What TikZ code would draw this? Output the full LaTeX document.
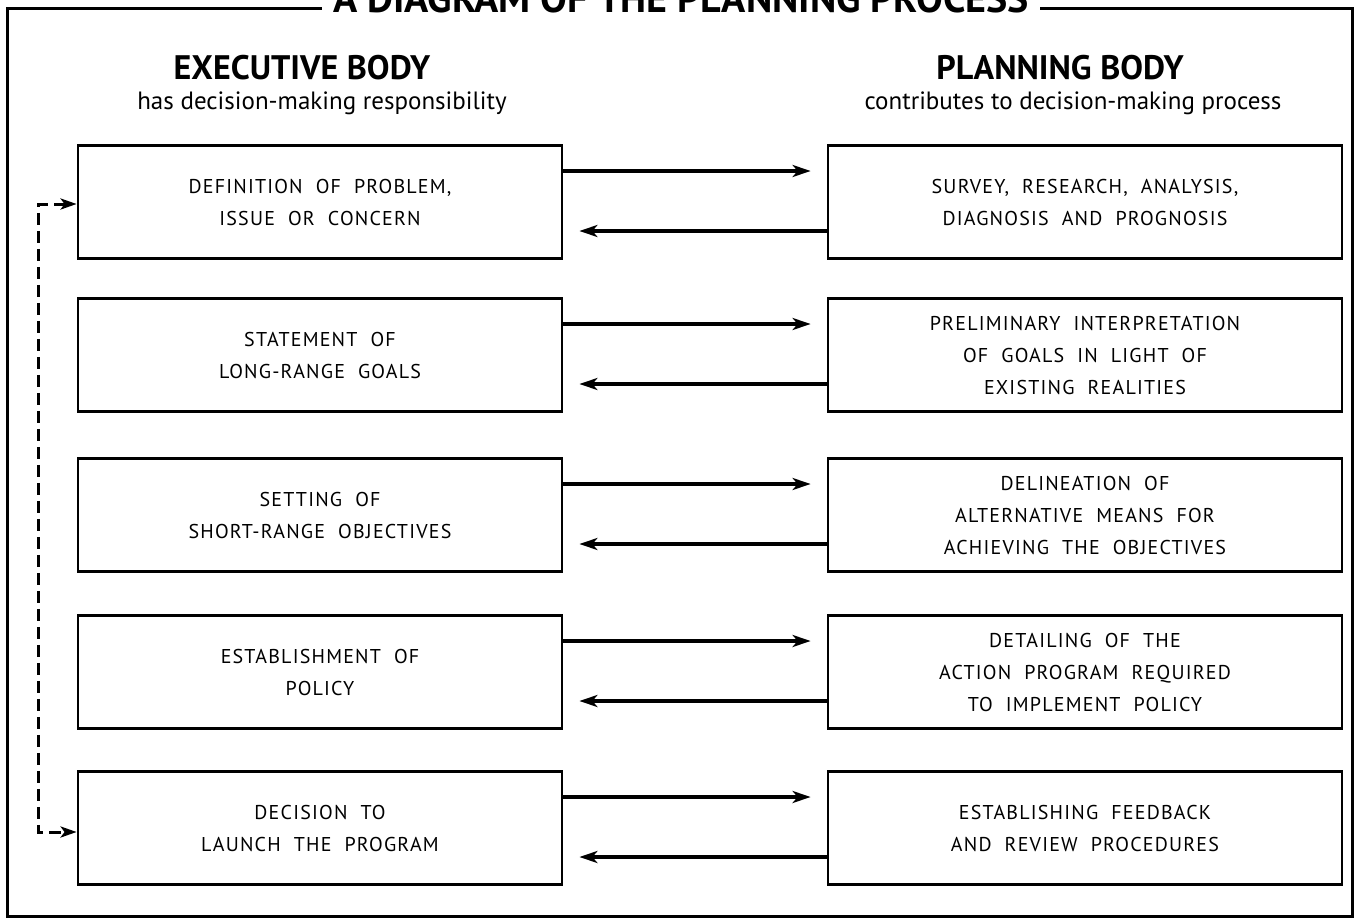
\documentclass[tikz,border=0pt]{standalone}
\usepackage{fontspec}
\setmainfont{PT Sans}
\newfontfamily\boxfont[LetterSpace=6,WordSpace=2]{PT Sans}
\newfontfamily\headfont{PT Sans}
\usetikzlibrary{arrows.meta}
\begin{document}
\begin{tikzpicture}[x=1pt,y=-1pt,
  lbox/.style={draw, line width=2.8pt, minimum width=484pt, minimum height=113pt, inner sep=0pt, align=center, font=\boxfont\fontsize{20}{32}\selectfont},
  rbox/.style={lbox, minimum width=514pt},
  conn/.style={line width=3.2pt, -{Stealth[length=18pt,width=12pt,inset=5pt]}},
  fb/.style={line width=3pt, dash pattern=on 12pt off 6pt, {Stealth[length=16pt,width=11pt,inset=4pt]}-{Stealth[length=16pt,width=11pt,inset=4pt]}},
  head/.style={font=\headfont\bfseries\fontsize{34}{36}\selectfont, inner sep=0pt},
  sub/.style={font=\headfont\fontsize{25}{28}\selectfont, inner sep=0pt},
  ttl/.style={font=\headfont\bfseries\fontsize{40}{42}\selectfont, inner sep=11pt}
]
\useasboundingbox (0,0) rectangle (1358,921);
% title and frame
\node[ttl, anchor=base] (title) at (681,12) {A DIAGRAM OF THE PLANNING PROCESS};
\draw[line width=3pt] (title.west |- 0,8) -- (7,8) -- (7,916) -- (1352,916) -- (1352,8) -- (title.east |- 0,8);
% headings
\node[head] (eh) at (302,68) {EXECUTIVE BODY};
\node[sub] (es) at (322,103) {has decision-making responsibility};
\node[head] (ph) at (1060,68) {PLANNING BODY};
\node[sub] (ps) at (1073,103) {contributes to decision-making process};
% left boxes
\node[lbox] (L1) at (320,202) {DEFINITION OF PROBLEM,\\ISSUE OR CONCERN};
\node[lbox] (L2) at (320,355) {STATEMENT OF\\LONG-RANGE GOALS};
\node[lbox] (L3) at (320,515) {SETTING OF\\SHORT-RANGE OBJECTIVES};
\node[lbox] (L4) at (320,672) {ESTABLISHMENT OF\\POLICY};
\node[lbox] (L5) at (320,828) {DECISION TO\\LAUNCH THE PROGRAM};
% right boxes
\node[rbox] (R1) at (1085,202) {SURVEY, RESEARCH, ANALYSIS,\\DIAGNOSIS AND PROGNOSIS};
\node[rbox] (R2) at (1085,355) {PRELIMINARY INTERPRETATION\\OF GOALS IN LIGHT OF\\EXISTING REALITIES};
\node[rbox] (R3) at (1085,515) {DELINEATION OF\\ALTERNATIVE MEANS FOR\\ACHIEVING THE OBJECTIVES};
\node[rbox] (R4) at (1085,672) {DETAILING OF THE\\ACTION PROGRAM REQUIRED\\TO IMPLEMENT POLICY};
\node[rbox] (R5) at (1085,828) {ESTABLISHING FEEDBACK\\AND REVIEW PROCEDURES};
% connectors
\foreach \i in {1,...,5}{
  \draw[conn] ([yshift=31pt]L\i.east) -- ([yshift=31pt,xshift=-16pt]R\i.west);
  \draw[conn] ([yshift=-29pt]R\i.west) -- ([yshift=-29pt,xshift=16pt]L\i.east);
}
% feedback loop
\draw[fb] ([yshift=-2pt]L1.west) -- ++(-38,0) |- ([yshift=-4pt]L5.west);
\end{tikzpicture}
\end{document}
